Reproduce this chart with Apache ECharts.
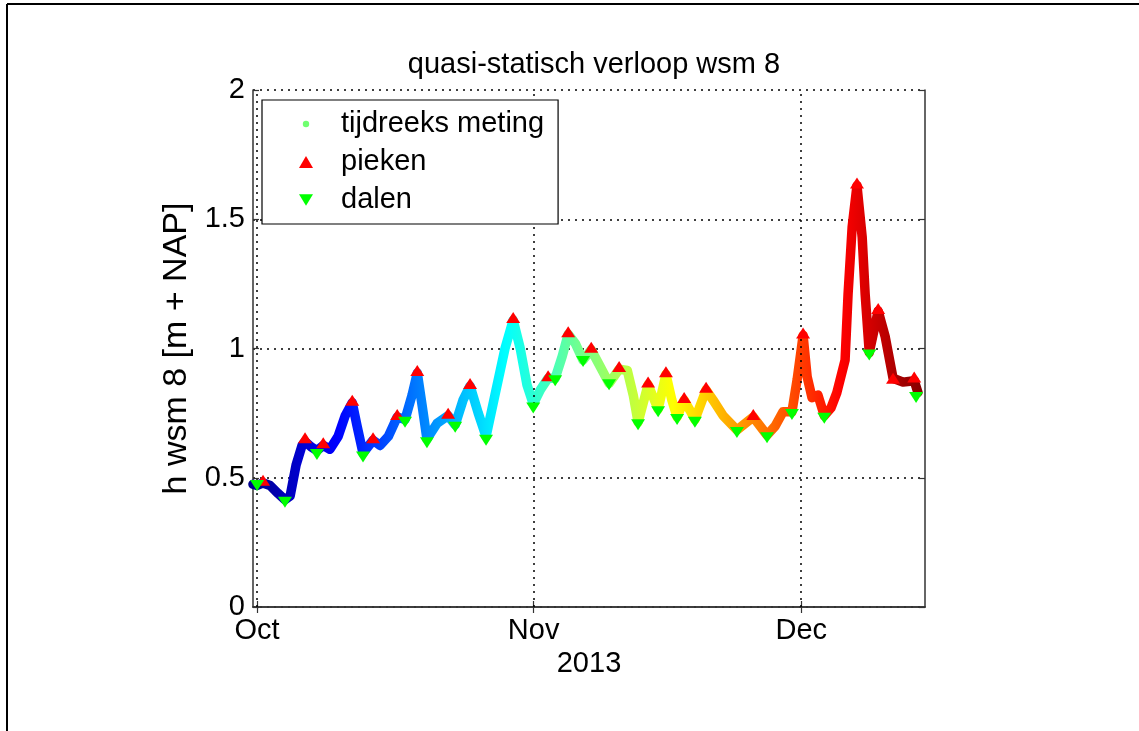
<!DOCTYPE html>
<html><head><meta charset="utf-8">
<script src="https://cdn.jsdelivr.net/npm/echarts@6/dist/echarts.min.js"></script>
<style>html,body{margin:0;padding:0;background:#fff}#c{width:1139px;height:731px}</style>
</head><body><div id="c"></div>
<script>
// ---- texts / ticks ----
const chartTitle = 'quasi-statisch verloop wsm 8';
const yAxisName = 'h wsm 8 [m + NAP]';
const xAxisName = '2013';
const monthTicks = ['2013-10-01 00:00', '2013-11-01 00:00', '2013-12-01 00:00'];
const monthLabels = ['Oct', 'Nov', 'Dec'];
const yTickValues = [0, 0.5, 1, 1.5, 2];
const yTickLabels = ['0', '0.5', '1', '1.5', '2'];
const xRange = ['2013-09-30 13:00', '2013-12-14 21:00'];
const legendNames = ['tijdreeks meting', 'pieken', 'dalen'];

const seriesTimes = [
 '2013-09-30 13:00','2013-10-01 00:00','2013-10-01 16:00','2013-10-02 11:00','2013-10-03 08:00',
 '2013-10-04 03:00','2013-10-04 17:00','2013-10-05 09:00','2013-10-06 01:00','2013-10-06 09:00',
 '2013-10-07 01:00','2013-10-07 17:00','2013-10-08 10:00','2013-10-09 04:00','2013-10-10 02:00',
 '2013-10-10 21:00','2013-10-11 16:00','2013-10-12 05:00','2013-10-12 21:00','2013-10-14 00:00',
 '2013-10-14 19:00','2013-10-15 17:00','2013-10-16 17:00','2013-10-17 14:00','2013-10-18 09:00',
 '2013-10-18 23:00','2013-10-19 12:00','2013-10-20 01:00','2013-10-21 04:00','2013-10-22 10:00',
 '2013-10-23 05:00','2013-10-24 02:00','2013-10-24 21:00','2013-10-25 19:00','2013-10-26 16:00',
 '2013-10-27 16:00','2013-10-28 19:00','2013-10-29 17:00','2013-10-30 12:00','2013-10-31 06:00',
 '2013-10-31 23:00','2013-11-01 18:00','2013-11-02 15:00','2013-11-03 10:00','2013-11-04 05:00',
 '2013-11-04 21:00','2013-11-05 16:00','2013-11-06 13:00','2013-11-07 11:00','2013-11-08 11:00',
 '2013-11-09 11:00','2013-11-10 14:00','2013-11-11 12:00','2013-11-12 04:00','2013-11-12 17:00',
 '2013-11-13 20:00','2013-11-14 23:00','2013-11-15 20:00','2013-11-16 12:00','2013-11-17 02:00',
 '2013-11-17 21:00','2013-11-18 13:00','2013-11-19 02:00','2013-11-20 08:00','2013-11-21 03:00',
 '2013-11-22 06:00','2013-11-23 19:00','2013-11-25 15:00','2013-11-27 04:00','2013-11-28 02:00',
 '2013-11-28 23:00','2013-11-29 23:00','2013-11-30 13:00','2013-12-01 05:00','2013-12-01 16:00',
 '2013-12-02 05:00','2013-12-02 21:00','2013-12-03 14:00','2013-12-04 08:00','2013-12-05 00:00',
 '2013-12-05 22:00','2013-12-06 06:00','2013-12-06 17:00','2013-12-07 06:00','2013-12-07 20:00',
 '2013-12-08 04:00','2013-12-08 15:00','2013-12-09 15:00','2013-12-10 10:00','2013-12-11 07:00',
 '2013-12-12 10:00','2013-12-13 16:00','2013-12-14 02:00'
];
const seriesValues = [
 0.475,0.47,0.48,0.47,0.44,
 0.415,0.43,0.55,0.625,0.64,
 0.62,0.605,0.625,0.61,0.66,
 0.74,0.79,0.70,0.595,0.645,
 0.625,0.66,0.735,0.725,0.82,
 0.905,0.78,0.65,0.71,0.74,
 0.705,0.80,0.855,0.75,0.66,
 0.82,1.00,1.11,1.00,0.86,
 0.785,0.84,0.885,0.885,0.97,
 1.055,1.02,0.955,0.995,0.93,
 0.865,0.92,0.915,0.82,0.715,
 0.86,0.765,0.90,0.80,0.735,
 0.80,0.76,0.725,0.84,0.80,
 0.74,0.685,0.735,0.665,0.70,
 0.755,0.755,0.88,1.05,0.89,
 0.81,0.82,0.74,0.77,0.83,
 0.955,1.21,1.47,1.63,1.43,
 1.21,0.985,1.145,1.045,0.885,
 0.87,0.875,0.83
];
const peakTimes = [
 '2013-10-01 16:00','2013-10-06 09:00','2013-10-08 10:00','2013-10-11 16:00','2013-10-14 00:00',
 '2013-10-16 17:00','2013-10-18 23:00','2013-10-22 10:00','2013-10-24 21:00','2013-10-29 17:00',
 '2013-11-02 15:00','2013-11-04 21:00','2013-11-07 11:00','2013-11-10 14:00','2013-11-13 20:00',
 '2013-11-15 20:00','2013-11-17 21:00','2013-11-20 08:00','2013-11-25 15:00','2013-12-01 05:00',
 '2013-12-07 06:00','2013-12-09 15:00','2013-12-11 07:00','2013-12-13 16:00'
];
const peakValues = [
 0.49,0.655,0.635,0.80,0.655,
 0.745,0.915,0.75,0.865,1.12,
 0.895,1.065,1.005,0.93,0.87,
 0.91,0.81,0.85,0.745,1.06,
 1.64,1.155,0.885,0.89
];
const dipTimes = [
 '2013-10-01 00:00','2013-10-04 03:00','2013-10-07 17:00','2013-10-12 21:00','2013-10-17 14:00',
 '2013-10-20 01:00','2013-10-23 05:00','2013-10-26 16:00','2013-10-31 23:00','2013-11-03 10:00',
 '2013-11-06 13:00','2013-11-09 11:00','2013-11-12 17:00','2013-11-14 23:00','2013-11-17 02:00',
 '2013-11-19 02:00','2013-11-23 19:00','2013-11-27 04:00','2013-11-29 23:00','2013-12-03 14:00',
 '2013-12-08 15:00','2013-12-13 21:00'
];
const dipValues = [
 0.47,0.405,0.59,0.58,0.715,
 0.635,0.695,0.645,0.77,0.875,
 0.95,0.86,0.705,0.755,0.725,
 0.715,0.675,0.655,0.745,0.73,
 0.975,0.81
];

// ---- build ----
const toMs = s => new Date(s.replace(' ', 'T')).getTime();
const monthMs = monthTicks.map(toMs);
const xMin = toMs(xRange[0]), xMax = toMs(xRange[1]);
const FONT = "'Liberation Sans', Arial, Helvetica, sans-serif";
const zip = (t, v) => t.map((s, i) => [toMs(s), v[i]]);
const dotSvg = 'image://data:image/svg+xml;charset=utf-8,' + encodeURIComponent(
  '<svg xmlns="http://www.w3.org/2000/svg" width="14" height="12"><circle cx="7" cy="6" r="3.2" fill="#70ff70"/></svg>');
const downTri = 'path://M0,0L12,0L6,10Z';

const boxLine = { show: true, lineStyle: { color: '#333', width: 1.5 } };
const tick = { show: true, inside: true, length: 6, lineStyle: { color: '#333', width: 1.2 } };
const dotted = { color: '#000', width: 1.5, type: [2, 5] };
const monthLabelOf = v => { let b = 0; monthMs.forEach((m, i) => { if (Math.abs(m - v) < Math.abs(monthMs[b] - v)) b = i; }); return monthLabels[b]; };

const chart = echarts.init(document.getElementById('c'));
chart.setOption({
  animation: false,
  backgroundColor: '#fff',
  textStyle: { fontFamily: FONT, color: '#000' },
  title: {
    text: chartTitle, left: 589, textAlign: 'center', top: 45,
    textStyle: { fontFamily: FONT, fontSize: 29, fontWeight: 'normal', color: '#000' }
  },
  grid: { left: 253, top: 90, right: 214, bottom: 124, containLabel: false },
  visualMap: {
    show: false, type: 'continuous', seriesIndex: 0, dimension: 0,
    min: xMin, max: xMax,
    inRange: { color: ['#00008F','#0000FF','#0080FF','#00FFFF','#80FF80','#FFFF00','#FF8000','#FF0000','#800000'] }
  },
  legend: {
    left: 262, top: 100, orient: 'vertical', selectedMode: false,
    backgroundColor: '#fff', borderColor: '#000', borderWidth: 1.2,
    padding: [9, 14, 9, 37], itemGap: 8, itemWidth: 14, itemHeight: 12,
    textStyle: { fontFamily: FONT, fontSize: 29, color: '#000', lineHeight: 30, padding: [0, 0, 0, 23] },
    data: [
      { name: legendNames[0], icon: dotSvg },
      { name: legendNames[1], icon: 'triangle', itemStyle: { color: '#ff0000' } },
      { name: legendNames[2], icon: downTri, itemStyle: { color: '#00ff00' } }
    ],
    z: 10
  },
  xAxis: [{
    type: 'value', min: xMin, max: xMax, position: 'bottom',
    name: xAxisName, nameLocation: 'middle', nameGap: 41,
    nameTextStyle: { fontFamily: FONT, fontSize: 29, color: '#000' },
    axisLine: boxLine,
    axisTick: Object.assign({ customValues: monthMs }, tick),
    axisLabel: {
      customValues: monthMs, fontFamily: FONT, fontSize: 29, color: '#000', margin: 9,
      formatter: v => monthLabelOf(v)
    },
    splitLine: { show: false }
  }, {
    type: 'value', min: xMin, max: xMax, position: 'top',
    axisLine: boxLine,
    axisTick: Object.assign({ customValues: monthMs }, tick),
    axisLabel: { show: false }, splitLine: { show: false }
  }],
  yAxis: [{
    type: 'value', min: 0, max: 2, interval: 0.5, position: 'left',
    name: yAxisName, nameLocation: 'middle', nameGap: 39,
    nameTextStyle: { fontFamily: FONT, fontSize: 34, color: '#000' },
    axisLine: boxLine, axisTick: tick,
    axisLabel: {
      fontFamily: FONT, fontSize: 29, color: '#000', margin: 8,
      formatter: v => { const i = yTickValues.indexOf(v); return i >= 0 ? yTickLabels[i] : String(v); }
    },
    splitLine: { show: true, lineStyle: dotted }
  }, {
    type: 'value', min: 0, max: 2, interval: 0.5, position: 'right',
    axisLine: boxLine, axisTick: tick, axisLabel: { show: false }, splitLine: { show: false }
  }],
  series: [{
    name: legendNames[0], type: 'line', data: zip(seriesTimes, seriesValues),
    showSymbol: false, symbol: 'none', smooth: false,
    lineStyle: { width: 9.5, cap: 'round', join: 'round' },
    z: 3,
    markLine: {
      silent: true, symbol: 'none', label: { show: false },
      lineStyle: dotted, animation: false,
      data: monthMs.map(m => ({ xAxis: m }))
    }
  }, {
    name: legendNames[1], type: 'scatter', data: zip(peakTimes, peakValues),
    symbol: 'triangle', symbolSize: [14, 11],
    itemStyle: { color: '#ff0000', opacity: 1 }, z: 5
  }, {
    name: legendNames[2], type: 'scatter', data: zip(dipTimes, dipValues),
    symbol: downTri, symbolSize: [14, 11],
    itemStyle: { color: '#00ff00', opacity: 1 }, z: 5
  }],
  graphic: [
    { type: 'line', shape: { x1: 7, y1: 4, x2: 7, y2: 731 }, style: { stroke: '#000', lineWidth: 2 } },
    { type: 'line', shape: { x1: 7, y1: 4, x2: 1139, y2: 4 }, style: { stroke: '#000', lineWidth: 2 } }
  ]
});
</script></body></html>
